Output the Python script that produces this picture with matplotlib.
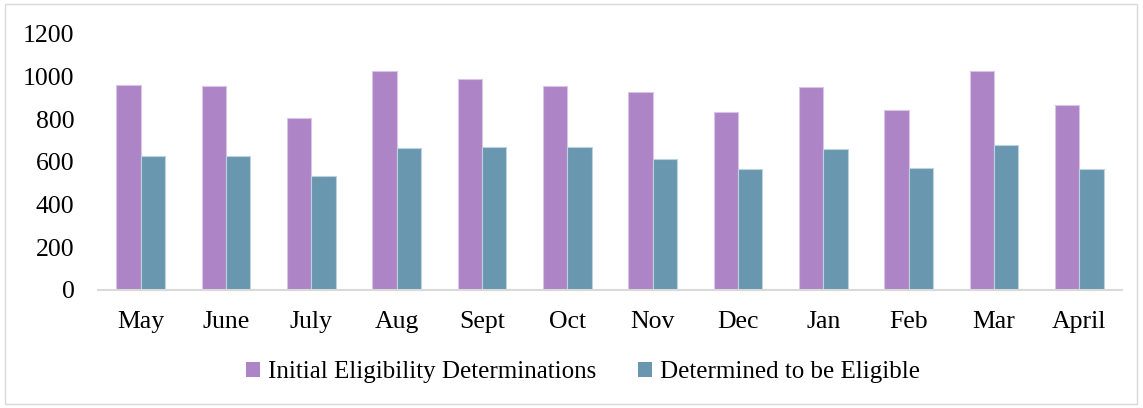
import matplotlib
matplotlib.use("Agg")
import matplotlib.pyplot as plt
from matplotlib.patches import Rectangle, Patch
import numpy as np

months = ["May", "June", "July", "Aug", "Sept", "Oct", "Nov", "Dec", "Jan", "Feb", "Mar", "April"]
initial = [959, 956, 803, 1023, 989, 954, 925, 833, 948, 842, 1023, 865]
eligible = [628, 627, 535, 666, 670, 670, 613, 566, 658, 572, 678, 567]
series_names = ["Initial Eligibility Determinations", "Determined to be Eligible"]
yticks = [0, 200, 400, 600, 800, 1000, 1200]

purple = "#AD84C6"
blue = "#6997AF"

plt.rcParams['font.family'] = ['Liberation Serif', 'DejaVu Serif']
FS = 18.5

fig = plt.figure(figsize=(11.43, 4.08), dpi=100)
W, H = 1143, 408
ax = fig.add_axes([98 / W, 1 - 290 / H, (1122 - 98) / W, (290 - 33.5) / H])

x = np.arange(len(months))
w = 0.287
ax.bar(x - w / 2, initial, w, color=purple, edgecolor="#D8C4E6", linewidth=0.8)
ax.bar(x + w / 2, eligible, w, color=blue, edgecolor="#BCD3DE", linewidth=0.8)

ax.set_xlim(-0.5, len(months) - 0.5)
ax.set_ylim(0, 1200)
ax.set_yticks(yticks)
ax.set_yticklabels([str(v) for v in yticks], fontsize=FS)
ax.set_xticks(x)
ax.set_xticklabels(months, fontsize=FS)
ax.tick_params(axis='both', length=0)
ax.tick_params(axis='y', pad=17)
ax.tick_params(axis='x', pad=15)
for s in ["top", "right", "left"]:
    ax.spines[s].set_visible(False)
ax.spines["bottom"].set_color("#D9D9D9")
ax.spines["bottom"].set_linewidth(1.5)

handles = [Patch(facecolor=purple, edgecolor="none"), Patch(facecolor=blue, edgecolor="none")]
fig.legend(handles, series_names, loc="center", bbox_to_anchor=(583 / W, 1 - 372 / H),
           ncol=2, frameon=False, fontsize=18, handlelength=0.55, handleheight=0.55,
           handletextpad=0.3, columnspacing=1.7)

fig.patches.append(Rectangle((5 / W, 4 / H), (1137 - 5) / W, (404 - 4) / H,
                             transform=fig.transFigure, fill=False,
                             edgecolor="#D9D9D9", linewidth=1.0))

fig.savefig("out.png", dpi=100)
